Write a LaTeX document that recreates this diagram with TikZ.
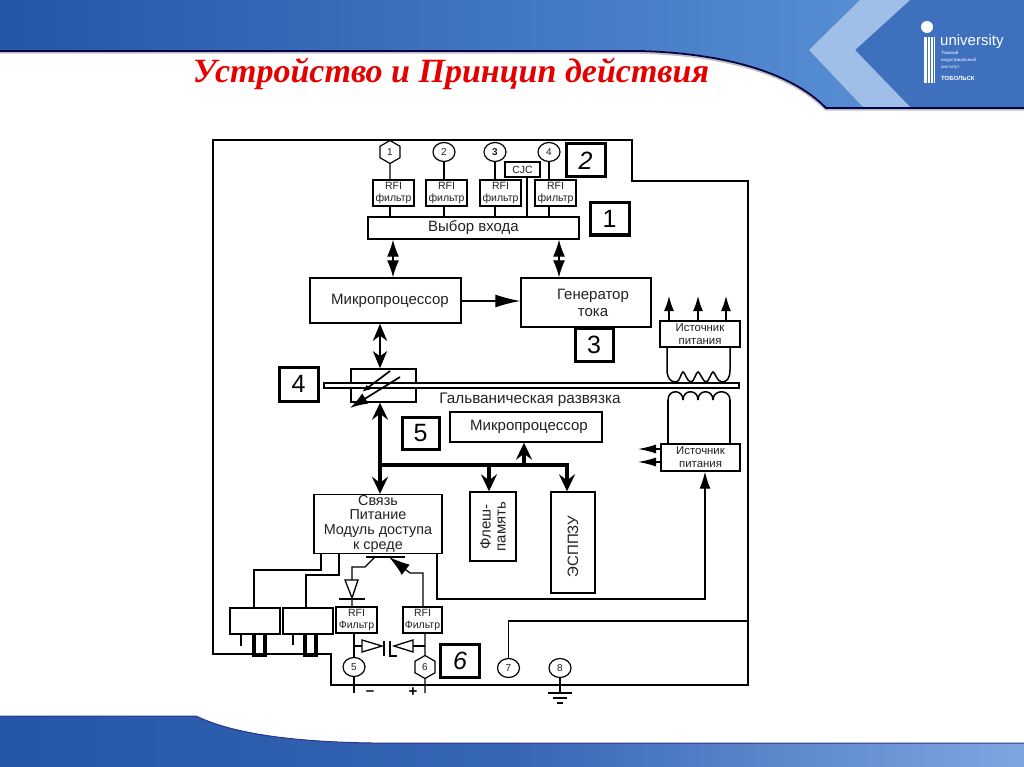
\documentclass[tikz,border=0pt]{standalone}
\usepackage{fontspec}
\setmainfont{Liberation Sans}
\newfontfamily\titlefont{Liberation Serif}
\usetikzlibrary{shapes.geometric, arrows.meta, positioning, calc}
\definecolor{headleft}{HTML}{2456A8}
\definecolor{headright}{HTML}{5F97DA}
\definecolor{chevron}{HTML}{9FBFE8}
\definecolor{logoblue}{HTML}{3F70BE}
\definecolor{footright}{HTML}{7EA6E2}
\definecolor{inktext}{HTML}{222222}
\tikzset{
    box/.style={draw=black, line width=1.4pt, fill=white, align=center, inner sep=0pt, text=inktext, font=\fontsize{15}{17}\selectfont},
    smallbox/.style={box, line width=1.2pt, font=\fontsize{10.5}{12}\selectfont},
    psubox/.style={box, line width=1.3pt, font=\fontsize{11.4}{13}\selectfont},
    labelbox/.style={draw=black, line width=3pt, fill=white, inner sep=0pt, minimum width=37pt, minimum height=32pt, font=\fontsize{25}{25}\selectfont},
    pin/.style={ellipse, draw=black, line width=1.2pt, fill=white, inner sep=0pt, minimum width=22pt, minimum height=19pt, text=inktext, font=\fontsize{10}{10}\selectfont},
    hexpin/.style={regular polygon, regular polygon sides=6, shape border rotate=30, draw=black, line width=1.2pt, fill=white, inner sep=0pt, minimum size=23pt, text=inktext, font=\fontsize{10}{10}\selectfont},
    wire/.style={draw=black, line width=1.3pt},
    arrow/.style={wire, -{Latex[length=15pt,width=10pt]}},
    dblarrow/.style={wire, {Latex[length=17pt,width=12pt]}-{Latex[length=17pt,width=12pt]}},
    busarrow/.style={draw=black, line width=3.2pt, -{Stealth[length=17pt,width=16pt,inset=6pt]}}
}

\begin{document}
\begin{tikzpicture}[x=1pt, y=-1pt]
    \useasboundingbox (0,0) rectangle (1024,767);

    % header and footer
    \fill[left color=headleft, right color=headright] (0,0) -- (1024,0) -- (1024,107) -- (826,107)
        .. controls (790,70) and (720,52) .. (640,50) -- (0,50) -- cycle;
    \fill[logoblue] (910,0) -- (1024,0) -- (1024,107) -- (910,107) -- (855,50) -- cycle;
    \fill[chevron] (860,0) -- (910,0) -- (855,50) -- (910,107) -- (863,107) -- (809,50) -- cycle;
    \draw[line width=3.5pt, gray!50] (0,52) -- (640,52) .. controls (720,54) and (790,72) .. (826,109) -- (1024,109);
    \draw[line width=1.8pt, black!70!blue] (0,51) -- (640,51) .. controls (720,53) and (790,71) .. (826,108) -- (1024,108);
    \fill[left color=headleft, right color=footright, middle color=headleft!80!footright] (0,716) -- (196,716)
        .. controls (235,735) and (300,742) .. (372,743) -- (1024,743) -- (1024,767) -- (0,767) -- cycle;
    \draw[line width=1pt, black!40!blue!60!gray] (0,716) -- (196,716) .. controls (235,735) and (300,742) .. (372,743) -- (1024,743);

    % logo
    \fill[white] (927,27) circle (6pt);
    \foreach \y in {38,40,...,82} \draw[white, line width=1.2pt] (924,\y) -- (935,\y);
    \foreach \x in {927,930,933} \draw[logoblue, line width=.6pt] (\x,37) -- (\x,83);
    \node[text=white, font=\fontsize{15}{15}\selectfont, anchor=west, inner sep=0pt] (logo) at (940,42) {university};
    \node[text=white, align=left, font=\fontsize{4.5}{7}\selectfont, anchor=north west, inner sep=0pt] (logosub) at (941,51) {Томский\\индустриальный\\институт};
    \node[text=white, font=\bfseries\fontsize{6}{7}\selectfont, anchor=west, inner sep=0pt] (logotown) at (941,78) {ТОБОЛЬСК};

    % title
    \node[text=red!90!black, font=\titlefont\bfseries\itshape\fontsize{34}{34}\selectfont] (title) at (451,74) {Устройство и Принцип действия};

    % outer frame
    \draw[line width=1.5pt] (213,140) -- (632,140) -- (632,181) -- (748,181) -- (748,685) -- (331,685) -- (331,654) -- (213,654) -- cycle;

    % inputs
    \node [hexpin] (pina) at (390,152) {1};
    \node [pin] (pinb) at (444,152) {2};
    \node [pin] (pinc) at (495,152) {\textbf{3}};
    \node [pin] (pind) at (549,152) {4};
    \node [smallbox, minimum width=41pt, minimum height=26pt] (rfia) at (393.5,193) {RFI\\фильтр};
    \node [smallbox, minimum width=41pt, minimum height=26pt] (rfib) at (446.5,193) {RFI\\фильтр};
    \node [smallbox, minimum width=41pt, minimum height=26pt] (rfic) at (500.5,193) {RFI\\фильтр};
    \node [smallbox, minimum width=41pt, minimum height=26pt] (rfid) at (555.5,193) {RFI\\фильтр};
    \node [smallbox, minimum width=35pt, minimum height=15pt] (cjc) at (522.5,169.5) {CJC};
    \node [box, minimum width=211pt, minimum height=22pt] (select) at (473.5,228) {\raisebox{-2pt}{Выбор входа}};
    \node [labelbox, minimum width=39pt, minimum height=33pt] (lbltwo) at (585.5,160.5) {\itshape 2};
    \node [labelbox, minimum width=39pt, minimum height=32pt] (lblone) at (609.5,219) {1};

    \draw [wire] (pina) -- (pina |- rfia.north);
    \draw [wire] (pinb) -- (pinb |- rfib.north);
    \draw [wire] (pinc) -- (pinc |- rfic.north);
    \draw [wire] (pind) -- (pind |- rfid.north);
    \draw [wire] (pina |- rfia.south) -- (pina |- select.north);
    \draw [wire] (pinb |- rfib.south) -- (pinb |- select.north);
    \draw [wire] (pinc |- rfic.south) -- (pinc |- select.north);
    \draw [wire] (pind |- rfid.south) -- (pind |- select.north);
    \draw [wire] (cjc.south -| 527,0) -- (select.north -| 527,0);

    % measuring part
    \node [box, minimum width=151pt, minimum height=45pt] (cpu) at (385.5,300.5) {\hspace*{9pt}Микропроцессор};
    \node [box, minimum width=130pt, minimum height=49pt] (gen) at (586,302.5) {\hspace*{14pt}Генератор\\\hspace*{14pt}тока};
    \node [labelbox, minimum width=38pt, minimum height=33pt] (lblthree) at (594,344.5) {3};
    \draw [dblarrow] (select.south -| 393,0) -- (cpu.north -| 393,0);
    \draw [dblarrow] (select.south -| 559,0) -- (gen.north -| 559,0);
    \draw [wire, -{Latex[length=25pt,width=13pt]}] (cpu.east |- 0,301) -- (gen.west |- 0,301);

    % isolation barrier
    \node [box, minimum width=65pt, minimum height=33pt] (opto) at (383.5,385.5) {};
    \node [draw=black, line width=1.2pt, fill=white, minimum width=415pt, minimum height=5pt, inner sep=0pt] (barrier) at (531.5,385.5) {};
    \node [labelbox, minimum width=39pt, minimum height=34pt] (lblfour) at (298.5,384) {4};
    \draw [draw=black, line width=2.6pt, {Stealth[length=17pt,width=14pt,inset=5pt]}-{Stealth[length=17pt,width=14pt,inset=5pt]}] (cpu.south -| 380,0) -- (opto.north -| 380,0);
    \draw [draw=black, line width=1.7pt, -{Latex[length=8pt,width=6pt]}] (390,371) -- (362,392);
    \draw [draw=black, line width=1.7pt, -{Latex[length=18pt,width=12pt]}] (400,377) -- (350,408);
    \node [font=\fontsize{15.3}{16}\selectfont, text=inktext, inner sep=0pt] (galv) at (530,400) {Гальваническая развязка};

    % power supplies
    \node [psubox, minimum width=80pt, minimum height=26pt] (psua) at (700,334) {Источник\\питания};
    \node [psubox, minimum width=79pt, minimum height=27pt] (psub) at (700.5,457.5) {Источник\\питания};
    \draw [arrow] (psua.north -| 669,0) -- (669,296);
    \draw [arrow] (psua.north -| 698,0) -- (698,296);
    \draw [arrow] (psua.north -| 726,0) -- (726,296);
    \draw [wire, -{Latex[length=18pt,width=9pt]}] (psub.west |- 0,449) -- (638,449);
    \draw [wire, -{Latex[length=18pt,width=9pt]}] (psub.west |- 0,462) -- (638,462);
    \draw [wire, line width=1.5pt] (psua.south -| 667,0) -- (667,372) .. controls (668,378) and (670,382) .. (676,382)
        .. controls (680,382) and (681,372) .. (683,372) .. controls (685,372) and (687,382) .. (691,382)
        .. controls (694,382) and (696,372) .. (698,372) .. controls (700,372) and (703,382) .. (706,382)
        .. controls (709,382) and (711,372) .. (713,372) .. controls (715,372) and (717,382) .. (722,382)
        .. controls (727,382) and (730,378) .. (730,370) -- (psua.south -| 730,0);
    \draw [wire, line width=1.5pt] (psub.north -| 668,0) -- (668,400);
    \draw [wire, line width=1.5pt] (psub.north -| 730,0) -- (730,400);
    \foreach \a/\b in {668/683,683/698,698/713,713/730}
        \draw [wire, line width=1.5pt] (\a,400) .. controls (\a,389) and (\b,389) .. (\b,400);

    % isolated part
    \node [box, minimum width=152pt, minimum height=30pt] (cpub) at (526,427) {\hspace*{6pt}Микропроцессор};
    \node [labelbox, minimum width=37pt, minimum height=32pt] (lblfive) at (420.5,433) {5};
    \node [box, minimum width=128pt, minimum height=59pt, font=\fontsize{14.4}{14.7}\selectfont] (link) at (378,524) {\raisebox{-1pt}{Связь}\\Питание\\Модуль доступа\\к среде};
    \node [box, minimum width=46pt, minimum height=69pt] (flash) at (493,526.5) {\rotatebox{90}{\parbox{60pt}{\centering Флеш-\\[-2pt]память}}};
    \node [box, minimum width=44pt, minimum height=101pt] (eeprom) at (573,542.5) {\rotatebox{90}{ЭСППЗУ\hspace*{8pt}}};
    \coordinate (busa) at (380,465);
    \coordinate (busb) at (489,465);
    \coordinate (busc) at (524,465);
    \coordinate (busd) at (567,465);
    \draw [busarrow] (busa) -- (opto.south -| busa);
    \draw [busarrow] (busa) -- (link.north -| busa);
    \draw [busarrow] (busa) -- (busb) -- (flash.north -| busb);
    \draw [busarrow] (busb) -- (busd) -- (eeprom.north -| busd);
    \draw [busarrow] (busc) -- (cpub.south -| busc);
    \draw [wire, -{Latex[length=17pt,width=11pt]}] (link.south -| 437,0) |- (705,599) -- (psub.south -| 705,0);

    % outputs
    \node [box, minimum width=50pt, minimum height=26pt] (relaya) at (255,621) {};
    \node [box, minimum width=50pt, minimum height=26pt] (relayb) at (308,621) {};
    \node [smallbox, minimum width=41pt, minimum height=26pt] (rfie) at (356.5,620) {RFI\\Фильтр};
    \node [smallbox, minimum width=39pt, minimum height=26pt] (rfif) at (422.5,620) {RFI\\Фильтр};
    \node [pin] (pine) at (354,667) {5};
    \node [hexpin] (pinf) at (425,667) {6};
    \node [pin] (ping) at (508.5,668) {7};
    \node [pin] (pinh) at (560,668) {8};
    \node [labelbox, minimum width=39pt, minimum height=33pt] (lblsix) at (460,660.5) {\itshape 6};

    \draw [wire] (link.south -| 321,0) |- (254,570) -- (relaya.north -| 254,0);
    \draw [wire] (link.south -| 339,0) |- (306,575) -- (relayb.north -| 306,0);
    \draw [wire] (relaya.south -| 241,0) -- (241,646);
    \draw [wire] (relayb.south -| 293,0) -- (293,645);
    \draw [line width=3.2pt] (relaya.south -| 254,0) -- (254,655) -- (265,655) -- (relaya.south -| 265,0);
    \draw [line width=3.2pt] (relayb.south -| 305,0) -- (305,655) -- (316,655) -- (relayb.south -| 316,0);

    % switch above the filters
    \draw [line width=1.5pt] (366,557) -- (405,557);
    \draw [wire] (375,557) -- (365,567) -- (352,567) -- (rfie.north -| 352,0);
    \draw [wire, fill=white] (345,580) -- (358,580) -- (352,598) -- cycle;
    \draw [wire] (339,599) -- (365,599);
    \draw [wire, -{Latex[length=21pt,width=13pt]}] (rfif.north -| 423,0) -- (423,573) -- (410,573) -- (389,557);

    % protection diodes
    \draw [wire] (rfie.south -| pine) -- (pine);
    \draw [wire] (rfif.south -| pinf) -- (pinf);
    \draw [wire] (354,646) -- (362,646);
    \draw [wire, fill=white] (362,640) -- (362,652) -- (382,646) -- cycle;
    \draw [line width=1.8pt] (384,641) -- (384,656);
    \draw [line width=1.8pt] (397,656) -- (390,656) -- (390,641);
    \draw [wire, fill=white] (413,640) -- (413,652) -- (394,646) -- cycle;
    \draw [wire] (413,646) -- (425,646);

    % terminals
    \coordinate (terme) at (354,693);
    \coordinate (termf) at (425,693);
    \coordinate (termh) at (560,693);
    \draw [wire] (pine) -- (terme);
    \draw [wire] (pinf) -- (termf);
    \draw [wire] (pinh) -- (termh);
    \draw [wire] (548,693) -- (572,693);
    \draw [wire] (553,698) -- (567,698);
    \draw [wire] (557,703) -- (563,703);
    \node [font=\bfseries\fontsize{15}{15}\selectfont, inner sep=0pt] (minus) at (370,693) {--};
    \node [font=\bfseries\fontsize{15}{15}\selectfont, inner sep=0pt] (plus) at (413,692) {+};

    % terminal 7 to the frame
    \coordinate (framer) at (748,621);
    \draw [wire] (ping) |- (framer);
\end{tikzpicture}
\end{document}
